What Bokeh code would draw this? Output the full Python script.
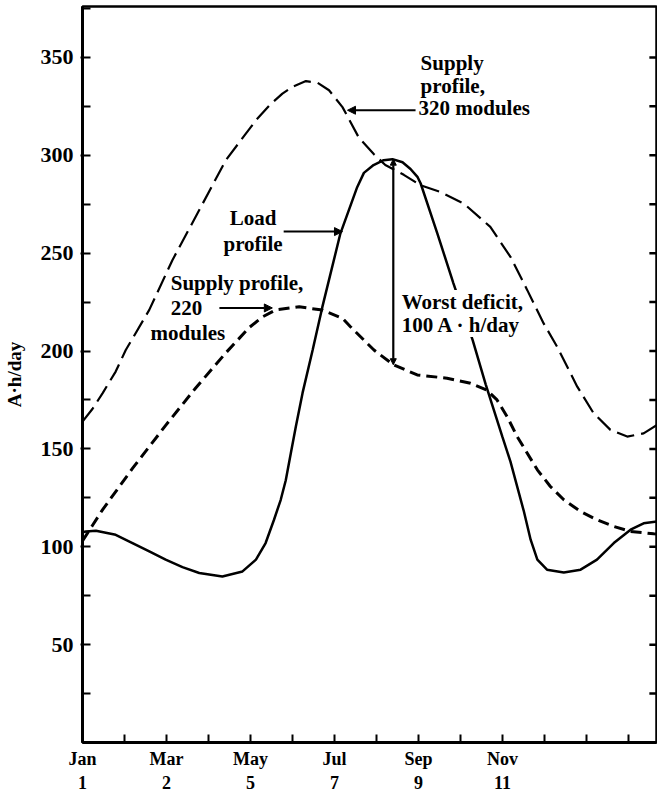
from bokeh.plotting import figure
from bokeh.models import Range1d, FixedTicker, Label, Arrow, NormalHead
from bokeh.embed import file_html
from bokeh.resources import INLINE

# ---- data (month index: 0 = Jan) ----
month_ticks = [0, 2, 4, 6, 8, 10]
month_minor = [1, 3, 5, 7, 9, 11, 12, 13]
month_labels = ["Jan\n1", "Mar\n2", "May\n5", "Jul\n7", "Sep\n9", "Nov\n11"]

y_ticks = [50, 100, 150, 200, 250, 300, 350]
y_minor = [25, 75, 125, 175, 225, 275, 325, 375]
right_ticks = [25, 50, 75, 100, 125, 150, 175, 200, 225, 250, 275, 300, 325, 350]

x_max = 13.667
y_max = 376
right_tick_len = 0.17  # in months (about 7 px)

supply320_m = [0, 0.24, 0.48, 0.79, 1.03, 1.59, 2.14, 2.78, 3.41, 4.13, 4.45, 4.76, 5.0,
               5.32, 5.6, 5.87, 6.19, 6.58, 6.94, 7.21, 7.65, 8.05, 8.52, 9.08, 9.71,
               10.19, 10.59, 10.98, 11.3, 11.78, 12.17, 12.57, 12.97, 13.36, 13.68]
supply320_v = [163.9, 170.5, 178.5, 189.5, 200.5, 221, 246.4, 272, 297.4, 317.9, 325.5, 331.5, 335,
               337.9, 337, 333.2, 324.6, 309, 300.5, 295, 290, 284.7, 281.3, 275.3, 263.4,
               248.1, 231.1, 214.1, 202.2, 181.8, 168.2, 159.7, 156.3, 157.9, 162.2]

load_m = [0, 0.08, 0.32, 0.79, 1.19, 1.59, 1.98, 2.38, 2.78, 3.33, 3.81, 4.13, 4.36, 4.56,
          4.72, 4.84, 4.96, 5.08, 5.24, 5.48, 5.71, 6.14, 6.54, 6.70, 6.93, 7.17, 7.38, 7.62,
          7.81, 7.98, 8.05, 8.45, 8.83, 9.29, 9.6, 10.0, 10.19, 10.51, 10.67, 10.83, 11.06, 11.46,
          11.86, 12.25, 12.65, 13.05, 13.36, 13.68]
load_v = [107.4, 107.8, 108.2, 106.1, 101.9, 97.6, 93.4, 89.6, 86.6, 84.8, 87.4, 93.4, 101.9, 113.8,
          124, 134, 147.8, 161.4, 178.6, 200.5, 222.4, 260, 283.7, 291, 295, 297.5, 298, 296.4,
          293, 288.8, 285.7, 260, 234.7, 205.6, 183, 156, 143.5, 118, 103.6, 93.4, 88.3, 86.9,
          88.3, 93.4, 101.9, 108.7, 112, 112.9]

supply220_m = [0, 0.24, 0.48, 1.19, 1.98, 2.69, 3.41, 3.97, 4.29, 4.6, 5.16, 5.71, 6.19,
               6.38, 6.94, 7.41, 7.97, 8.68, 9.24, 9.63, 9.87, 10.11, 10.35, 10.59, 10.83,
               11.14, 11.46, 11.86, 12.25, 12.65, 13.05, 13.6, 13.68]
supply220_v = [103, 111, 119, 140, 162, 181, 199, 212, 217.5, 221, 222.6, 220.9, 216.7,
               212.4, 200.5, 192.9, 187.8, 186.1, 183.5, 180, 175, 166.5, 156.3, 147.8, 139.3,
               130.8, 124, 118, 113.8, 110.4, 107.8, 106.6, 106.5]

deficit_m = 7.4
deficit_top = 298
deficit_bottom = 193

FONT = "Liberation Serif"

p = figure(width=657, height=795, output_backend="svg", toolbar_location=None,
           x_range=Range1d(0, x_max), y_range=Range1d(0, y_max),
           min_border_left=82, min_border_right=1, min_border_top=6, min_border_bottom=52,
           background_fill_color="white", border_fill_color="white")
p.grid.visible = False
p.outline_line_color = "black"
p.outline_line_width = 2.5

# x axis
xa = p.xaxis[0]
xa.ticker = FixedTicker(ticks=month_ticks, minor_ticks=month_minor)
xa.major_label_overrides = {t: lab for t, lab in zip(month_ticks, month_labels)}
xa.axis_line_width = 3
xa.major_tick_in = 8
xa.major_tick_out = 0
xa.minor_tick_in = 8
xa.minor_tick_out = 0
xa.major_tick_line_width = 2
xa.minor_tick_line_width = 2
xa.major_label_text_font = FONT
xa.major_label_text_font_style = "bold"
xa.major_label_text_font_size = "18px"
xa.major_label_text_color = "black"
xa.major_label_standoff = 6

# y axis
ya = p.yaxis[0]
ya.ticker = FixedTicker(ticks=y_ticks, minor_ticks=y_minor)
ya.axis_line_width = 3
ya.major_tick_in = 8
ya.major_tick_out = 2
ya.minor_tick_in = 8
ya.minor_tick_out = 0
ya.major_tick_line_width = 2
ya.minor_tick_line_width = 2
ya.major_label_text_font = FONT
ya.major_label_text_font_style = "bold"
ya.major_label_text_font_size = "22px"
ya.major_label_text_color = "black"
ya.major_label_standoff = 7
ya.axis_label = "A·h/day"
ya.axis_label_text_font = FONT
ya.axis_label_text_font_style = "bold"
ya.axis_label_text_font_size = "19px"
ya.axis_label_text_color = "black"
ya.axis_label_standoff = 13

# right-edge tick marks drawn inside the frame
p.segment(x0=[x_max - right_tick_len] * len(right_ticks), y0=right_ticks,
          x1=[x_max] * len(right_ticks), y1=right_ticks,
          line_color="black", line_width=2.5)

# curves
p.line(supply320_m, supply320_v, line_color="black", line_width=2.2, line_dash="18 7")
p.line(supply220_m, supply220_v, line_color="black", line_width=3, line_dash="11 6")
p.line(load_m, load_v, line_color="black", line_width=2.5)

# worst deficit
p.add_layout(Arrow(x_start=deficit_m, y_start=deficit_bottom, x_end=deficit_m, y_end=deficit_top,
                   line_width=2.2, line_color="black",
                   start=NormalHead(size=6, fill_color="black", line_color="black"),
                   end=NormalHead(size=6, fill_color="black", line_color="black")))


def lab(x, y, text, align="left", bg=None):
    kw = {}
    if bg:
        kw = dict(background_fill_color=bg)
    p.add_layout(Label(x=x, y=y, text=text, text_font=FONT, text_font_style="bold",
                       text_font_size="21px", text_color="black", text_align=align,
                       text_baseline="middle", **kw))


# Supply profile, 320 modules
lab(8.05, 347, "Supply")
lab(8.05, 335.5, "profile,")
lab(8.0, 324, "320 modules")
p.add_layout(Arrow(x_start=7.93, y_start=323, x_end=6.31, y_end=323, line_width=2, line_color="black",
                   end=NormalHead(size=8, fill_color="black", line_color="black")))

# Load profile
lab(4.06, 268, "Load", align="center")
lab(4.06, 254.6, "profile", align="center")
p.add_layout(Arrow(x_start=4.79, y_start=261, x_end=6.19, y_end=261, line_width=2, line_color="black",
                   end=NormalHead(size=8, fill_color="black", line_color="black")))

# Supply profile, 220 modules
lab(2.1, 234.7, "Supply profile,")
lab(2.1, 222, "220")
lab(1.62, 209, "modules")
p.add_layout(Arrow(x_start=3.26, y_start=222, x_end=4.52, y_end=222, line_width=2, line_color="black",
                   end=NormalHead(size=8, fill_color="black", line_color="black")))

# Worst deficit label
lab(7.6, 225, "Worst deficit,", bg="white")
lab(7.6, 213.3, "100 A · h/day", bg="white")

open("out.html", "w").write(file_html(p, INLINE))
